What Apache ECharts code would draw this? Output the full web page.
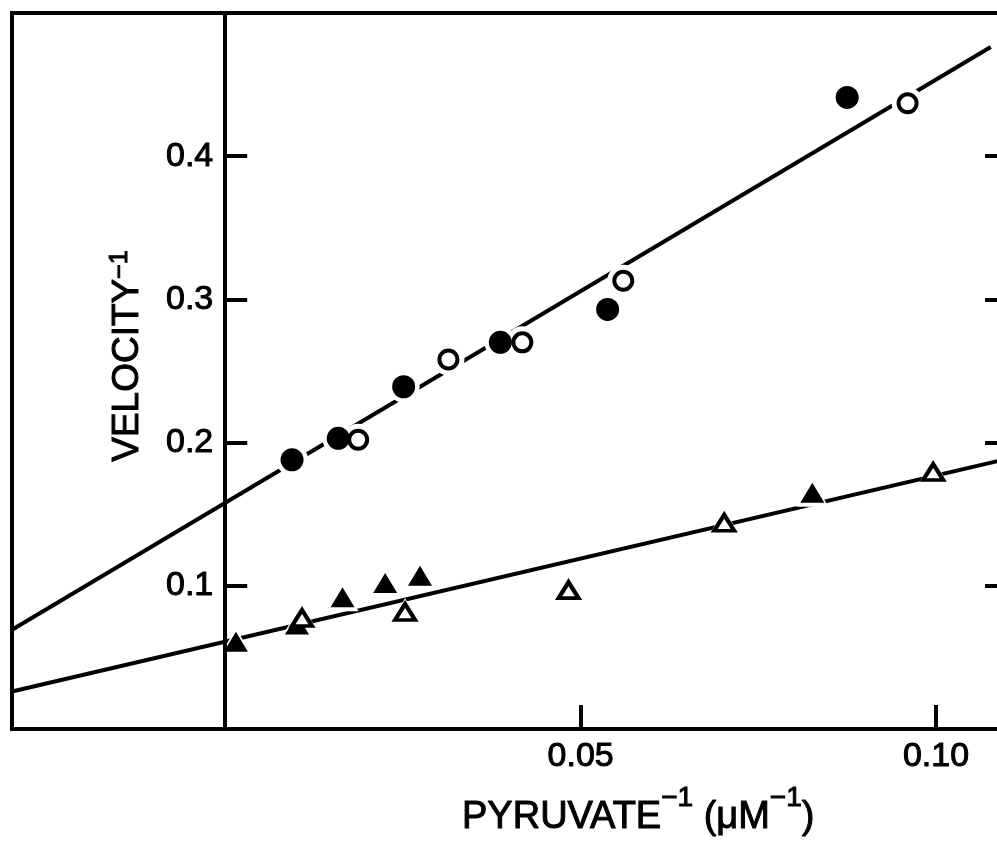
<!DOCTYPE html>
<html>
<head>
<meta charset="utf-8">
<script src="https://cdn.jsdelivr.net/npm/echarts@6/dist/echarts.min.js"></script>
<style>
html,body{margin:0;padding:0;background:#fff;}
#chart{width:997px;height:841px;}
</style>
</head>
<body>
<div id="chart"></div>
<script>
// Axis ranges and tick values
const xRange = [-0.03, 0.109];
const yRange = [0, 0.5];
const xTickValues = [0.05, 0.10];
const yTickValues = [0.1, 0.2, 0.3, 0.4];

// Data points [PYRUVATE^-1, VELOCITY^-1]
const filledCircles = [[0.0094, 0.188], [0.0159, 0.203], [0.0251, 0.239], [0.0387, 0.270], [0.0538, 0.293], [0.0875, 0.441]];
const openCircles = [[0.0187, 0.202], [0.0314, 0.258], [0.0418, 0.270], [0.0560, 0.313], [0.0960, 0.437]];
const filledTriangles = [[0.0015, 0.061], [0.0101, 0.073], [0.0165, 0.092], [0.0225, 0.102], [0.0274, 0.107], [0.0826, 0.165]];
const openTriangles = [[0.0108, 0.0775], [0.0253, 0.0817], [0.0483, 0.097], [0.0702, 0.144], [0.0996, 0.1795]];

// Fitted lines: intercept, slope, and right end x
const lineIntercepts = [0.158, 0.061];
const lineSlopes = [2.955, 1.16];
const lineRightEnds = [0.1077, 0.109];

function fitLine(i) {
  const a = lineIntercepts[i], b = lineSlopes[i];
  return [xRange[0], lineRightEnds[i]].map(x => [x, a + b * x]);
}

const FONT = 'Liberation Sans';
const W = 997, GL = 12, GR = -3, GT = 13, GB = 112;
const gridWidth = W - GL - GR;
// distance from the frame's left edge to x = 0
const zeroOffset = (0 - xRange[0]) / (xRange[1] - xRange[0]) * gridWidth;

const chart = echarts.init(document.getElementById('chart'), null, {renderer: 'canvas'});

const labelStyle = {color: '#000', fontFamily: FONT, fontSize: 34, textBorderColor: '#000', textBorderWidth: 1};
const tickLine = {color: '#000', width: 4};

const option = {
  backgroundColor: '#fff',
  animation: false,
  grid: [{
    // the framed plot area
    left: GL, top: GT, right: GR, bottom: GB,
    show: true, borderColor: '#000', borderWidth: 4,
    containLabel: false, outerBoundsMode: 'none'
  }, {
    // the part right of x = 0 (vertical axis line and labels at the origin)
    left: GL + zeroOffset, top: GT, right: GR, bottom: GB,
    show: false, containLabel: false, outerBoundsMode: 'none'
  }, {
    // the part left of x = 0 (its right edge carries the ticks at the origin)
    left: GL, top: GT, right: W - GL - zeroOffset, bottom: GB,
    show: false, containLabel: false, outerBoundsMode: 'none'
  }],
  xAxis: [{
    type: 'value', min: xRange[0], max: xRange[1], gridIndex: 0,
    axisLine: {show: true, onZero: false, lineStyle: {color: '#000', width: 4}},
    axisTick: {show: true, inside: true, length: 24, lineStyle: tickLine, customValues: xTickValues},
    axisLabel: Object.assign({show: true, margin: 11, customValues: xTickValues,
      formatter: v => Number(v).toFixed(2)}, labelStyle),
    splitLine: {show: false}
  }, {
    type: 'value', min: 0, max: xRange[1], gridIndex: 1, show: false
  }, {
    type: 'value', min: xRange[0], max: 0, gridIndex: 2, show: false
  }],
  yAxis: [{
    // right-hand inward ticks of the frame
    type: 'value', min: yRange[0], max: yRange[1], gridIndex: 0, position: 'right',
    axisLine: {show: false, onZero: false},
    axisTick: {show: true, inside: true, length: 15, lineStyle: tickLine, customValues: yTickValues},
    axisLabel: {show: false},
    splitLine: {show: false}
  }, {
    // vertical axis at x = 0: line and labels
    type: 'value', min: yRange[0], max: yRange[1], gridIndex: 1, position: 'left', z: 5,
    axisLine: {show: true, onZero: false, lineStyle: {color: '#000', width: 4}},
    axisTick: {show: false},
    axisLabel: Object.assign({show: true, margin: 12, customValues: yTickValues,
      formatter: v => Number(v).toFixed(1)}, labelStyle),
    splitLine: {show: false}
  }, {
    // ticks at x = 0 pointing into the plot (to the right)
    type: 'value', min: yRange[0], max: yRange[1], gridIndex: 2, position: 'right', z: 5,
    axisLine: {show: false, onZero: false},
    axisTick: {show: true, inside: false, length: 22, lineStyle: tickLine, customValues: yTickValues},
    axisLabel: {show: false},
    splitLine: {show: false}
  }, {
    // frame-left axis moved onto x = 0: draws the inward ticks at the origin
    type: 'value', min: yRange[0], max: yRange[1], gridIndex: 0, position: 'left', z: 5,
    axisLine: {show: true, onZero: true, lineStyle: {color: '#000', width: 4}},
    axisTick: {show: true, inside: true, length: 22, lineStyle: tickLine, customValues: yTickValues},
    axisLabel: Object.assign({show: true, margin: 60, customValues: yTickValues,
      formatter: v => Number(v).toFixed(1)}, labelStyle),
    splitLine: {show: false}
  }],
  series: [
    {type: 'line', data: fitLine(0), showSymbol: false, symbol: 'none', z: 1,
     lineStyle: {color: '#000', width: 4}},
    {type: 'line', data: fitLine(1), showSymbol: false, symbol: 'none', z: 1,
     lineStyle: {color: '#000', width: 4}},
    // white halos that break the fitted lines around the markers
    {type: 'scatter', data: filledCircles.concat(openCircles), symbol: 'circle', symbolSize: 32, z: 2,
     itemStyle: {color: '#fff', opacity: 1}, silent: true},
    {type: 'scatter', data: filledTriangles.concat(openTriangles), symbol: 'triangle', symbolSize: [32, 28], z: 2,
     itemStyle: {color: '#fff', opacity: 1}, silent: true},
    {type: 'scatter', data: filledCircles, symbol: 'circle', symbolSize: 23, z: 3,
     itemStyle: {color: '#000', opacity: 1}},
    {type: 'scatter', data: openCircles, symbol: 'circle', symbolSize: 18, z: 3,
     itemStyle: {color: '#fff', borderColor: '#000', borderWidth: 4, opacity: 1}},
    {type: 'scatter', data: filledTriangles, symbol: 'triangle', symbolSize: [24, 20], z: 3,
     itemStyle: {color: '#000', opacity: 1}},
    {type: 'scatter', data: openTriangles, symbol: 'triangle', symbolSize: [20, 16], z: 3,
     itemStyle: {color: '#fff', borderColor: '#000', borderWidth: 4, opacity: 1}}
  ].map(s => Object.assign(s, {xAxisIndex: 0, yAxisIndex: 0})),
  graphic: [
    {
      type: 'text', x: 462, y: 804, z: 10,
      style: {
        text: '{a|PYRUVATE}{s|−1}{a| (μM}{s|−1}{a|)}',
        align: 'left', verticalAlign: 'middle',
        rich: {
          a: {fontFamily: FONT, fontSize: 38, lineHeight: 40, padding: [27, 0, 0, 0], fill: '#000', stroke: '#000', lineWidth: 1},
          s: {fontFamily: FONT, fontSize: 28, lineHeight: 40, verticalAlign: 'top', fill: '#000', stroke: '#000', lineWidth: 1}
        }
      }
    },
    {
      type: 'text', x: 128, y: 356, rotation: Math.PI / 2, z: 10,
      style: {
        text: '{a|VELOCITY}{s|−1}',
        align: 'center', verticalAlign: 'middle',
        rich: {
          a: {fontFamily: FONT, fontSize: 37, lineHeight: 40, fill: '#000', stroke: '#000', lineWidth: 1},
          s: {fontFamily: FONT, fontSize: 25, lineHeight: 24, verticalAlign: 'top', fill: '#000', stroke: '#000', lineWidth: 1}
        }
      }
    }
  ]
};
chart.setOption(option);
</script>
</body>
</html>
